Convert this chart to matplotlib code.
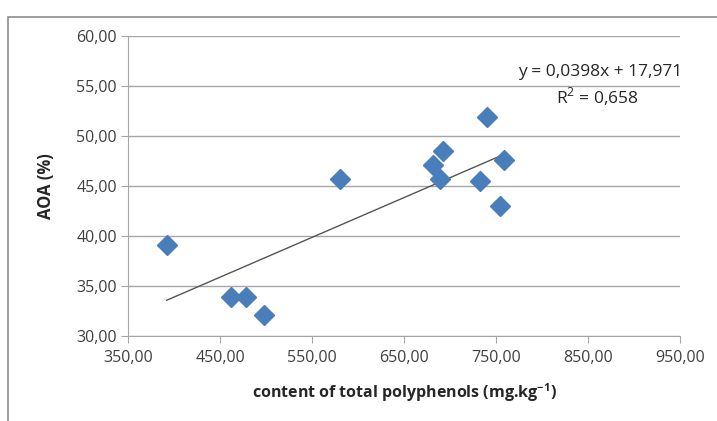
import matplotlib
matplotlib.use("Agg")
import matplotlib.pyplot as plt
import numpy as np
from matplotlib.patches import Rectangle

polyphenols = [392, 462, 478, 498, 580, 681, 692, 689, 733, 740, 759, 754]
aoa = [39.1, 33.9, 33.9, 32.1, 45.7, 47.1, 48.5, 45.7, 45.5, 51.9, 47.6, 43.0]
slope, intercept = 0.0398, 17.971
eq_text = "y = 0,0398x + 17,971"
r2_text = "R$^2$ = 0,658"
x_ticks = [350, 450, 550, 650, 750, 850, 950]
y_ticks = [30, 35, 40, 45, 50, 55, 60]

plt.rcParams['font.family'] = ['Open Sans', 'DejaVu Sans']
plt.rcParams['mathtext.fontset'] = 'custom'
plt.rcParams['mathtext.rm'] = 'Open Sans'
plt.rcParams['mathtext.bf'] = 'Open Sans:bold'

fig = plt.figure(figsize=(7.17, 4.21), dpi=100)
fig.patches.append(Rectangle((8/717, -0.1), 1.2, 1 - 17/421 + 0.1, transform=fig.transFigure,
                             fill=False, edgecolor='#8c8c8c', linewidth=1.2))
ax = fig.add_axes([128/717, 1 - 336/421, (680 - 128)/717, (336 - 36)/421])

ax.set_xlim(350, 950)
ax.set_ylim(30, 60)
ax.set_xticks(x_ticks)
ax.set_yticks(y_ticks)
ax.set_xticklabels([f"{v:.2f}".replace('.', ',') for v in x_ticks])
ax.set_yticklabels([f"{v:.2f}".replace('.', ',') for v in y_ticks])
ax.yaxis.grid(True, color='#a6a6a6', linewidth=1)
ax.set_axisbelow(True)
for s in ['top', 'right']:
    ax.spines[s].set_visible(False)
for s in ['left', 'bottom']:
    ax.spines[s].set_color('#a6a6a6')
ax.tick_params(axis='both', colors='#a6a6a6', labelcolor='#404040', labelsize=11.5, length=5)
ax.tick_params(axis='y', pad=3)
ax.tick_params(axis='x', pad=5)

xs = np.array([min(polyphenols), max(polyphenols)])
ax.plot(xs, slope * xs + intercept, color='#555555', linewidth=1)
ax.plot(polyphenols, aoa, linestyle='none', marker='D', markersize=10,
        color='#4a7ebb', markeredgecolor='#4a7ebb', zorder=3)

ax.text(863, 56.4, eq_text, ha='center', va='center', fontsize=12.5, color='#262626')
ax.text(860, 53.9, r2_text, ha='center', va='center', fontsize=12.5, color='#262626')

ax.set_ylabel("AOA (%)", fontweight='bold', fontsize=12, color='#262626', labelpad=15)
ax.set_xlabel("content of total polyphenols (mg.kg$^{\\mathbf{-1}}$)", fontweight='bold', fontsize=11.5,
              color='#262626', labelpad=11)

fig.savefig("out.png", dpi=100)
